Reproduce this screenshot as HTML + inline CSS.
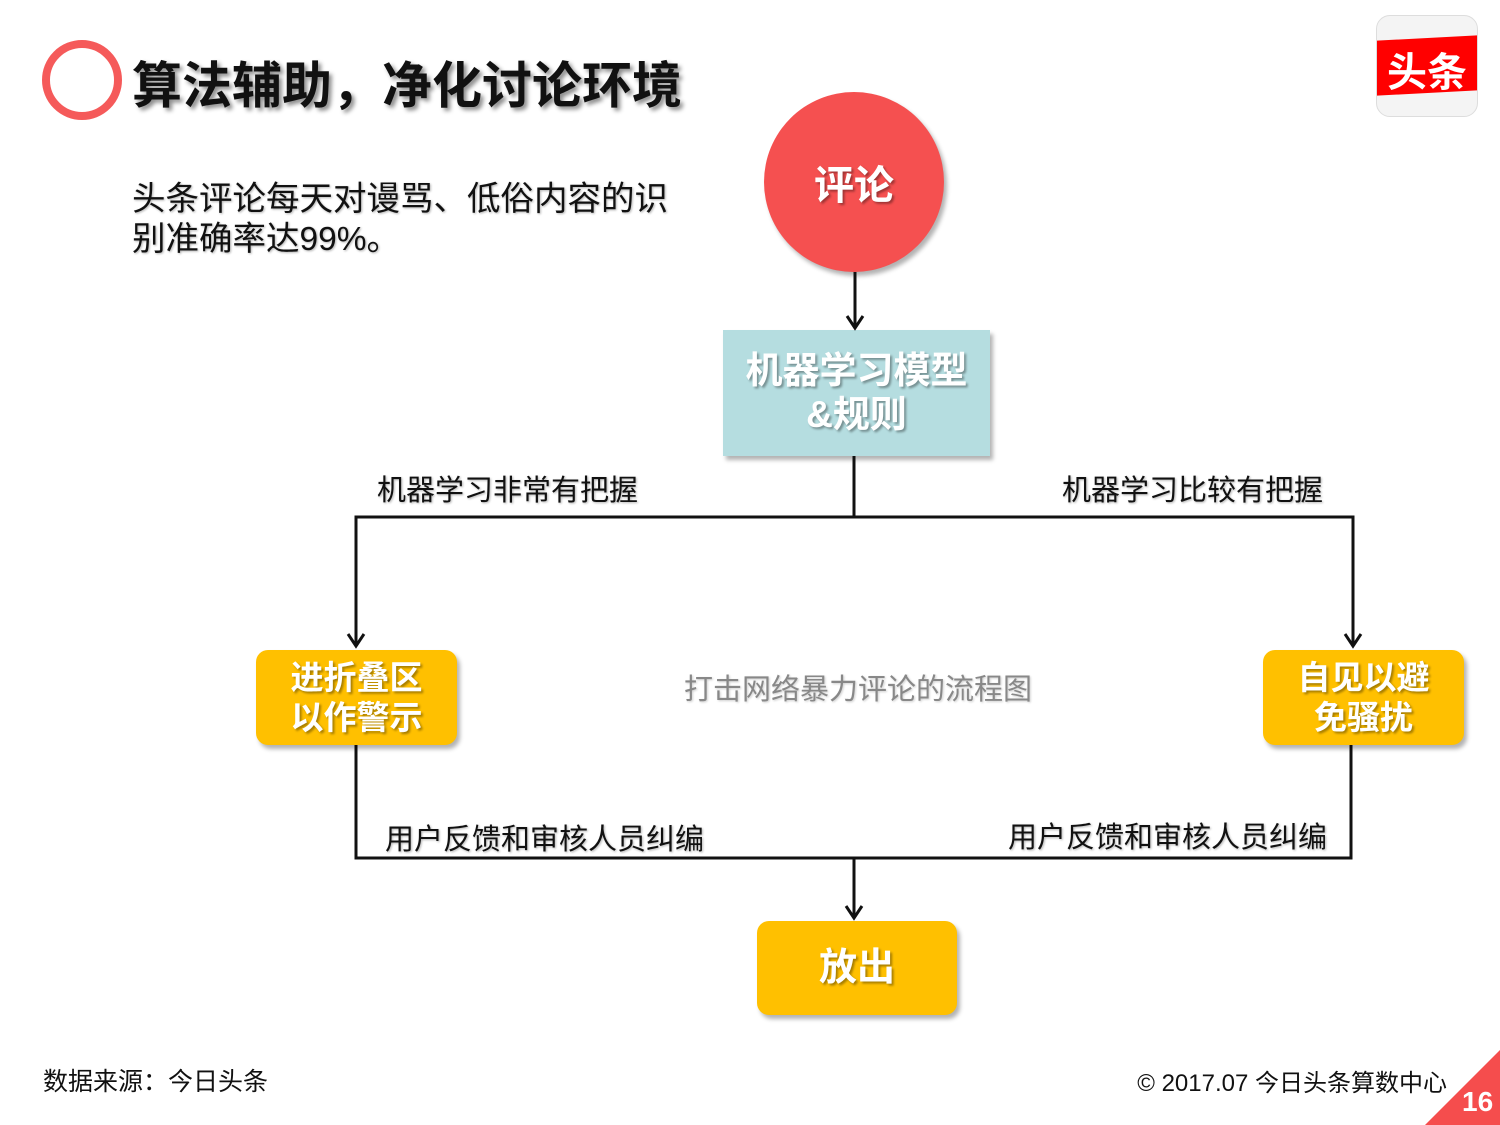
<!DOCTYPE html>
<html><head><meta charset="utf-8"><style>
body{margin:0;width:1500px;height:1125px;background:#fff;position:relative;overflow:hidden;font-family:"Liberation Sans","Noto Sans CJK SC",sans-serif}
.a{position:absolute;white-space:nowrap}
.box{position:absolute;display:flex;align-items:center;justify-content:center;text-align:center;color:#fff;font-weight:bold;box-shadow:3px 4px 4px rgba(0,0,0,.3)}
.y{background:#ffc000;border-radius:12px;font-size:33px;line-height:40px;text-shadow:2px 2px 2px rgba(0,0,0,.35)}
.lbl{font-size:29px;color:#111;text-shadow:1px 1px 2px rgba(0,0,0,.3)}
</style></head><body>
<div class="a" style="left:42px;top:40px;width:64px;height:64px;border:8px solid #f55a5a;border-radius:50%"></div>
<div class="a" style="left:132px;top:46px;font-size:50px;font-weight:bold;color:#111;text-shadow:3px 3px 4px rgba(0,0,0,.45)">算法辅助，净化讨论环境</div>
<div class="a" style="left:132px;top:180px;font-size:33.5px;line-height:40px;color:#111;text-shadow:1px 1px 2px rgba(0,0,0,.3)">头条评论每天对谩骂、低俗内容的识<br>别准确率达99%。</div>
<div class="a" style="left:1376px;top:15px;width:100px;height:100px;border-radius:14px;background:#f4f4f4;border:1px solid #ddd;overflow:hidden">
<div style="position:absolute;left:0;top:22px;width:100px;height:55px;background:#f00;transform:skewY(-3deg)"></div>
<div style="position:absolute;left:0;top:24px;width:100px;text-align:center;color:#fff;font-weight:bold;font-size:40px">头条</div></div>
<div class="box" style="left:764px;top:92px;width:180px;height:180px;border-radius:50%;background:#f55050;font-size:40px;text-shadow:2px 2px 2px rgba(0,0,0,.35)">评论</div>
<div class="box" style="left:723px;top:330px;width:267px;height:126px;background:#b5dde0;font-size:37px;line-height:44px;text-shadow:2px 2px 2px rgba(0,0,0,.35)">机器学习模型<br>&amp;规则</div>
<svg class="a" style="left:0;top:0" width="1500" height="1125">
<g stroke="#111" stroke-width="3" fill="none">
<line x1="855" y1="272" x2="855" y2="328"/><polyline points="847,316 855,328 863,316"/>
<polyline points="854,456 854,517"/>
<polyline points="356,646 356,517 1353,517 1353,646"/>
<polyline points="348,634 356,646 364,634"/><polyline points="1345,634 1353,646 1361,634"/>
<polyline points="356,745 356,858 1351,858 1351,745"/>
<line x1="854" y1="858" x2="854" y2="918"/><polyline points="846,906 854,918 862,906"/>
</g>
<polygon points="1425,1125 1500,1050 1500,1125" fill="#f54d4d"/>
</svg>
<div class="a lbl" style="left:377px;top:467px">机器学习非常有把握</div>
<div class="a lbl" style="left:1062px;top:467px">机器学习比较有把握</div>
<div class="box y" style="left:256px;top:650px;width:201px;height:95px">进折叠区<br>以作警示</div>
<div class="box y" style="left:1263px;top:650px;width:201px;height:95px">自见以避<br>免骚扰</div>
<div class="a" style="left:684px;top:666px;font-size:29px;color:#888;text-shadow:1px 1px 2px rgba(0,0,0,.2)">打击网络暴力评论的流程图</div>
<div class="a lbl" style="left:385px;top:816px">用户反馈和审核人员纠编</div>
<div class="a lbl" style="left:1008px;top:814px">用户反馈和审核人员纠编</div>
<div class="box y" style="left:757px;top:921px;width:200px;height:94px;font-size:38px">放出</div>
<div class="a" style="left:43px;top:1062px;font-size:25px;color:#111">数据来源：今日头条</div>
<div class="a" style="right:53px;top:1063px;font-size:24px;color:#111">© 2017.07 今日头条算数中心</div>
<div class="a" style="left:1462px;top:1086px;font-size:28px;font-weight:bold;color:#fff">16</div>
</body></html>
